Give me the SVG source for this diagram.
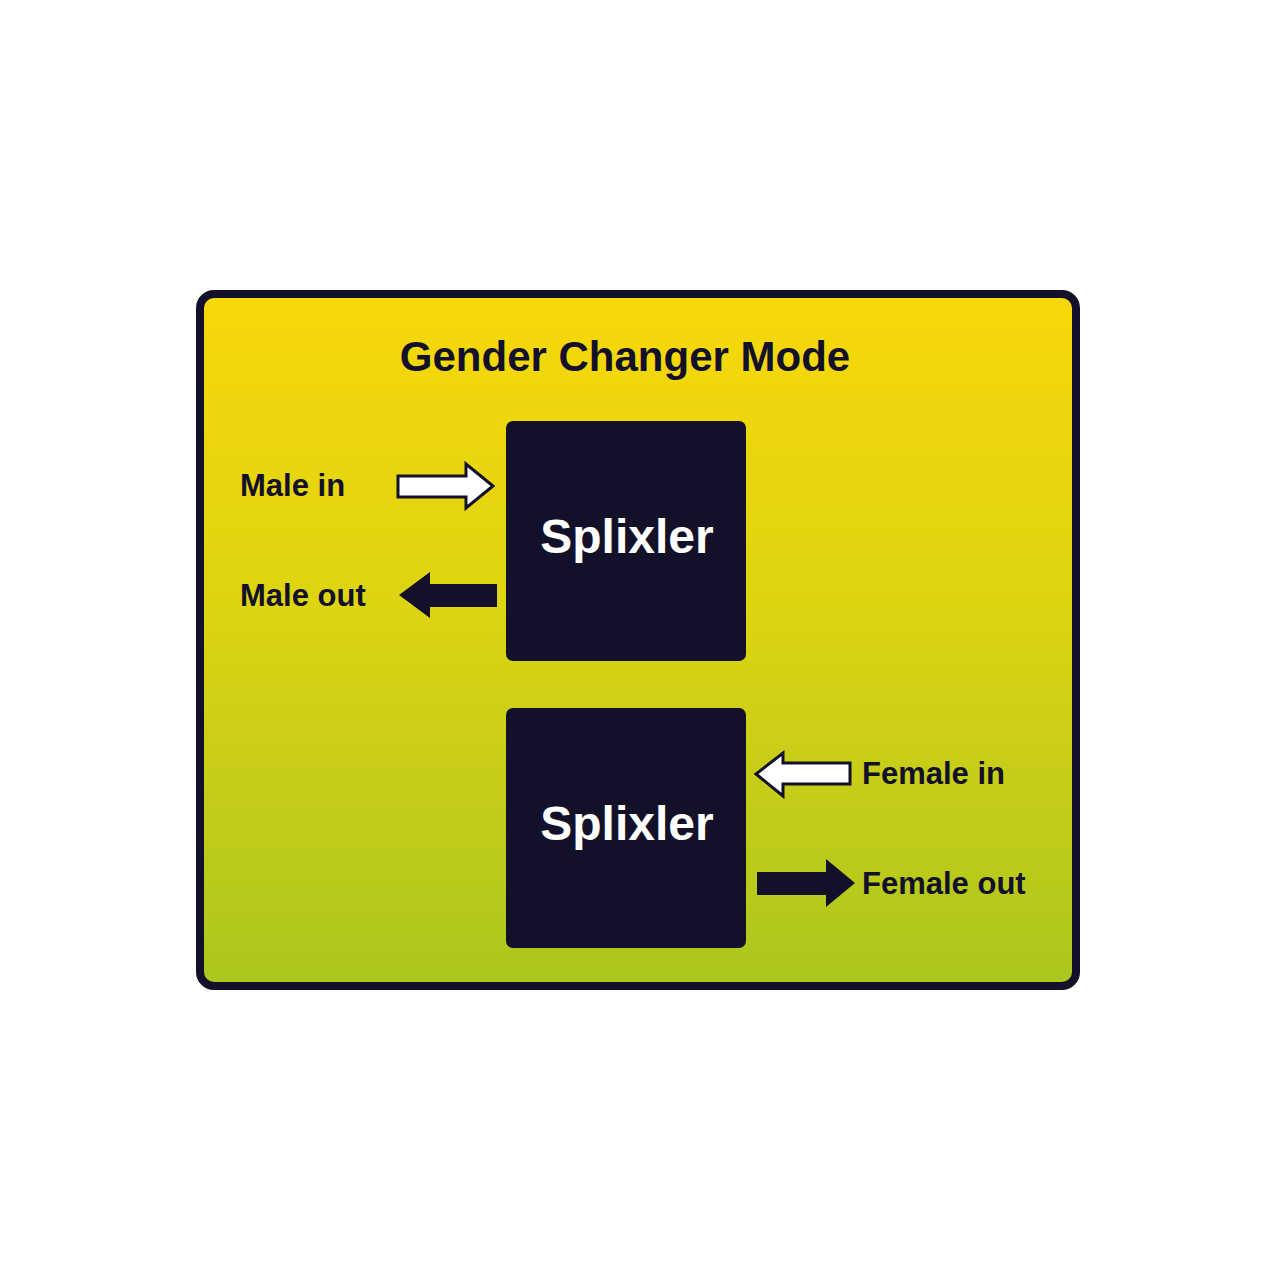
<svg xmlns="http://www.w3.org/2000/svg" width="1280" height="1280" viewBox="0 0 1280 1280">
<defs>
<linearGradient id="bg" x1="0" y1="0" x2="0" y2="1">
<stop offset="0" stop-color="#F8D80A"/>
<stop offset="0.45" stop-color="#DDD412"/>
<stop offset="1" stop-color="#ABC61F"/>
</linearGradient>
</defs>
<style>
.lbl{font-family:"Liberation Sans",Arial,sans-serif;font-weight:bold;font-size:31px;fill:#13112A}
.box{fill:#13112A}
.box-text{font-family:"Liberation Sans",Arial,sans-serif;font-weight:bold;font-size:48px;fill:#FFFFFF}
.white-arrow{fill:#FFFFFF;stroke:#13112A;stroke-width:3;stroke-linejoin:miter}
.dark-arrow{fill:#13112A}
</style>
<rect x="0" y="0" width="1280" height="1280" fill="#FFFFFF"/>
<g id="frame">
<rect x="200" y="294" width="876" height="692" rx="14" fill="url(#bg)" stroke="#13112A" stroke-width="8"/>
<text x="625" y="371" text-anchor="middle" font-family="Liberation Sans, Arial, sans-serif" font-weight="bold" font-size="42" fill="#13112A">Gender Changer Mode</text>
</g>
<g id="splixler-top">
<rect class="box" x="506" y="421" width="240" height="240" rx="7"/>
<text class="box-text" x="627" y="553" text-anchor="middle">Splixler</text>
</g>
<g id="splixler-bottom">
<rect class="box" x="506" y="708" width="240" height="240" rx="7"/>
<text class="box-text" x="627" y="840" text-anchor="middle">Splixler</text>
</g>
<g id="labels">
<text class="lbl" x="240" y="496">Male in</text>
<text class="lbl" x="240" y="606">Male out</text>
<text class="lbl" x="862" y="784">Female in</text>
<text class="lbl" x="862" y="894">Female out</text>
</g>
<g id="connectors">
<polygon class="white-arrow" points="398,476 466,476 466,464 493,486 466,508 466,497 398,497"/>
<polygon class="dark-arrow" points="497,584 430,584 430,572 399,595 430,618 430,607 497,607"/>
<polygon class="white-arrow" points="850,763 783,763 783,753 756,774 783,796 783,784 850,784"/>
<polygon class="dark-arrow" points="757,872 826,872 826,859 855,883 826,907 826,895 757,895"/>
</g>
</svg>
